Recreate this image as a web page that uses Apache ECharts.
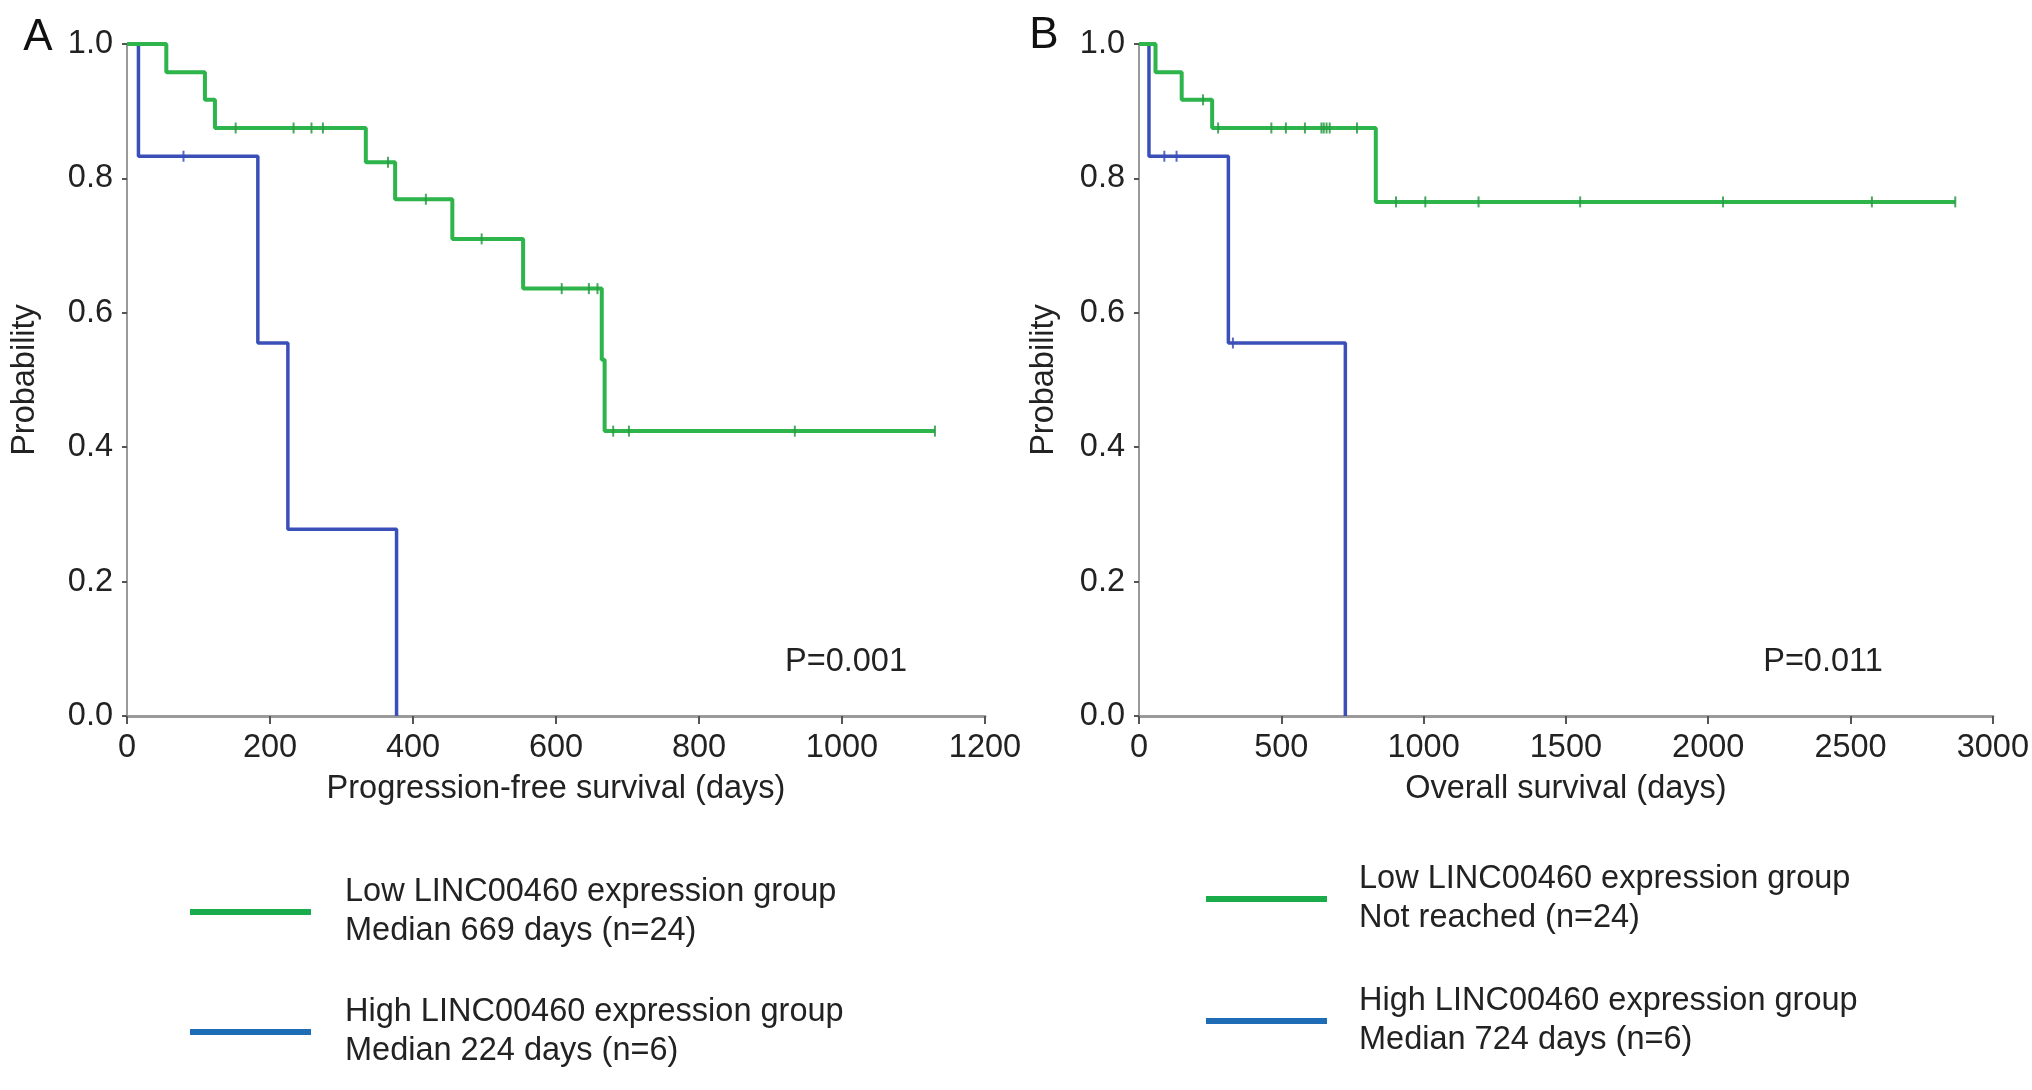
<!DOCTYPE html>
<html>
<head>
<meta charset="utf-8">
<script src="https://cdn.jsdelivr.net/npm/echarts@6/dist/echarts.min.js"></script>
<style>
html,body{margin:0;padding:0;background:#fff;}
#chart{width:2032px;height:1090px;}
</style>
</head>
<body>
<div id="chart"></div>
<script>
// ---- Panel A: Progression-free survival ----
var lowA_times = [0, 55, 109, 123, 334, 375, 455, 554, 664, 668, 1130];
var lowA_surv  = [1, 0.958, 0.917, 0.875, 0.824, 0.769, 0.710, 0.636, 0.530, 0.424, 0.424];
var lowA_censor = [152, 233, 258, 274, 365, 418, 496, 608, 646, 658, 680, 702, 934, 1130];
var highA_times = [0, 16, 183, 225, 377];
var highA_surv  = [1, 0.833, 0.555, 0.278, 0];
var highA_censor = [79];

// ---- Panel B: Overall survival ----
var lowB_times = [0, 58, 150, 257, 832, 2868];
var lowB_surv  = [1, 0.958, 0.917, 0.875, 0.765, 0.765];
var lowB_censor = [225, 278, 465, 516, 583, 641, 649, 659, 670, 766, 903, 1006, 1193, 1550, 2052, 2575, 2868];
var highB_times = [0, 35, 314, 725];
var highB_surv  = [1, 0.833, 0.555, 0];
var highB_censor = [89, 132, 330];

var yTicks = [0, 0.2, 0.4, 0.6, 0.8, 1.0];
var xTicksA = [0, 200, 400, 600, 800, 1000, 1200];
var xTicksB = [0, 500, 1000, 1500, 2000, 2500, 3000];

var pValueA = 'P=0.001';
var pValueB = 'P=0.011';
var legendText = {
  lowA: ['Low LINC00460 expression group', 'Median 669 days (n=24)'],
  highA: ['High LINC00460 expression group', 'Median 224 days (n=6)'],
  lowB: ['Low LINC00460 expression group', 'Not reached (n=24)'],
  highB: ['High LINC00460 expression group', 'Median 724 days (n=6)']
};

var GREEN = '#2db44b', BLUE = '#3b4fb8';
var GREEN_LEG = '#1aac4a', BLUE_LEG = '#1f6cb6';
var AXIS = '#9a9a9a', TXT = '#222';
var FONT = "'Liberation Sans', Arial, Helvetica, sans-serif";
var FS = 32.5;

function zip(t, s) { return t.map(function (v, i) { return [v, s[i]]; }); }
function survAt(t, times, surv) {
  var v = surv[0];
  for (var i = 0; i < times.length; i++) { if (times[i] <= t) v = surv[i]; }
  return v;
}
function censorPts(c, times, surv) { return c.map(function (t) { return [t, survAt(t, times, surv)]; }); }

function xAxisCfg(gi, ticks, name, gap) {
  return {
    gridIndex: gi, type: 'value', min: ticks[0], max: ticks[ticks.length - 1],
    interval: ticks[1] - ticks[0],
    name: name, nameLocation: 'middle', nameGap: gap,
    nameTextStyle: { fontSize: FS, color: TXT, fontFamily: FONT },
    axisLine: { show: true, lineStyle: { color: AXIS, width: 3 } },
    axisTick: { show: true, inside: false, length: 8, lineStyle: { color: '#555', width: 2 } },
    axisLabel: { fontSize: FS, color: TXT, fontFamily: FONT, margin: 16,
      formatter: function (v) { return String(v); } },
    splitLine: { show: false }
  };
}
function yAxisCfg(gi, gap) {
  return {
    gridIndex: gi, type: 'value', min: yTicks[0], max: yTicks[yTicks.length - 1],
    interval: yTicks[1] - yTicks[0],
    name: 'Probability', nameLocation: 'middle', nameGap: gap, nameRotate: 90,
    nameTextStyle: { fontSize: FS, color: TXT, fontFamily: FONT },
    axisLine: { show: true, lineStyle: { color: AXIS, width: 2 } },
    axisTick: { show: true, inside: false, length: 5, lineStyle: { color: '#555', width: 2 } },
    axisLabel: { fontSize: FS, color: TXT, fontFamily: FONT, margin: 14,
      formatter: function (v) { return v.toFixed(1); } },
    splitLine: { show: false }
  };
}
function curve(name, gi, data, color, width) {
  return {
    name: name, type: 'line', xAxisIndex: gi, yAxisIndex: gi, data: data,
    step: 'end', showSymbol: false, symbol: 'none', animation: false,
    lineStyle: { color: color, width: width }, itemStyle: { color: color }, z: 3
  };
}
function censor(gi, data, color) {
  return {
    type: 'scatter', xAxisIndex: gi, yAxisIndex: gi, data: data,
    symbol: 'rect', symbolSize: [2, 11], animation: false,
    itemStyle: { color: color, opacity: 0.85 }, z: 4, silent: true
  };
}
function legendCfg(left, top, gap, names, colors, pad) {
  return {
    orient: 'vertical', left: left, top: top, itemGap: gap,
    itemWidth: 121, itemHeight: 6, icon: 'rect', selectedMode: false,
    data: names.map(function (n, i) { return { name: n, itemStyle: { color: colors[i] } }; }),
    formatter: function (n) { return legendText[n].join('\n'); },
    textStyle: { fontSize: FS, lineHeight: 39, color: TXT, fontFamily: FONT, padding: [0, 0, 0, pad] }
  };
}

var chart = echarts.init(document.getElementById('chart'), null, { renderer: 'canvas' });
chart.setOption({
  backgroundColor: '#fff',
  animation: false,
  grid: [
    { left: 127, top: 44, width: 858, height: 672 },
    { left: 1139, top: 44, width: 855, height: 672 }
  ],
  xAxis: [
    xAxisCfg(0, xTicksA, 'Progression-free survival (days)', 57),
    xAxisCfg(1, xTicksB, 'Overall survival (days)', 57)
  ],
  yAxis: [ yAxisCfg(0, 85), yAxisCfg(1, 78) ],
  legend: [
    legendCfg(185, 868, 42, ['lowA', 'highA'], [GREEN_LEG, BLUE_LEG], 29),
    legendCfg(1201, 855, 44, ['lowB', 'highB'], [GREEN_LEG, BLUE_LEG], 27)
  ],
  graphic: [
    { type: 'text', x: 38, y: 38, style: { text: 'A', fontSize: 44, fontFamily: FONT, fill: '#111', align: 'center', verticalAlign: 'middle' } },
    { type: 'text', x: 1044, y: 36, style: { text: 'B', fontSize: 44, fontFamily: FONT, fill: '#111', align: 'center', verticalAlign: 'middle' } },
    { type: 'text', x: 846, y: 662, style: { text: pValueA, fontSize: FS, fontFamily: FONT, fill: TXT, align: 'center', verticalAlign: 'middle' } },
    { type: 'text', x: 1823, y: 662, style: { text: pValueB, fontSize: FS, fontFamily: FONT, fill: TXT, align: 'center', verticalAlign: 'middle' } }
  ],
  series: [
    curve('highA', 0, zip(highA_times, highA_surv), BLUE, 3.5),
    curve('lowA', 0, zip(lowA_times, lowA_surv), GREEN, 4),
    censor(0, censorPts(highA_censor, highA_times, highA_surv), BLUE),
    censor(0, censorPts(lowA_censor, lowA_times, lowA_surv), '#2a9a44'),
    curve('highB', 1, zip(highB_times, highB_surv), BLUE, 3.5),
    curve('lowB', 1, zip(lowB_times, lowB_surv), GREEN, 4),
    censor(1, censorPts(highB_censor, highB_times, highB_surv), BLUE),
    censor(1, censorPts(lowB_censor, lowB_times, lowB_surv), '#2a9a44')
  ]
});
</script>
</body>
</html>
